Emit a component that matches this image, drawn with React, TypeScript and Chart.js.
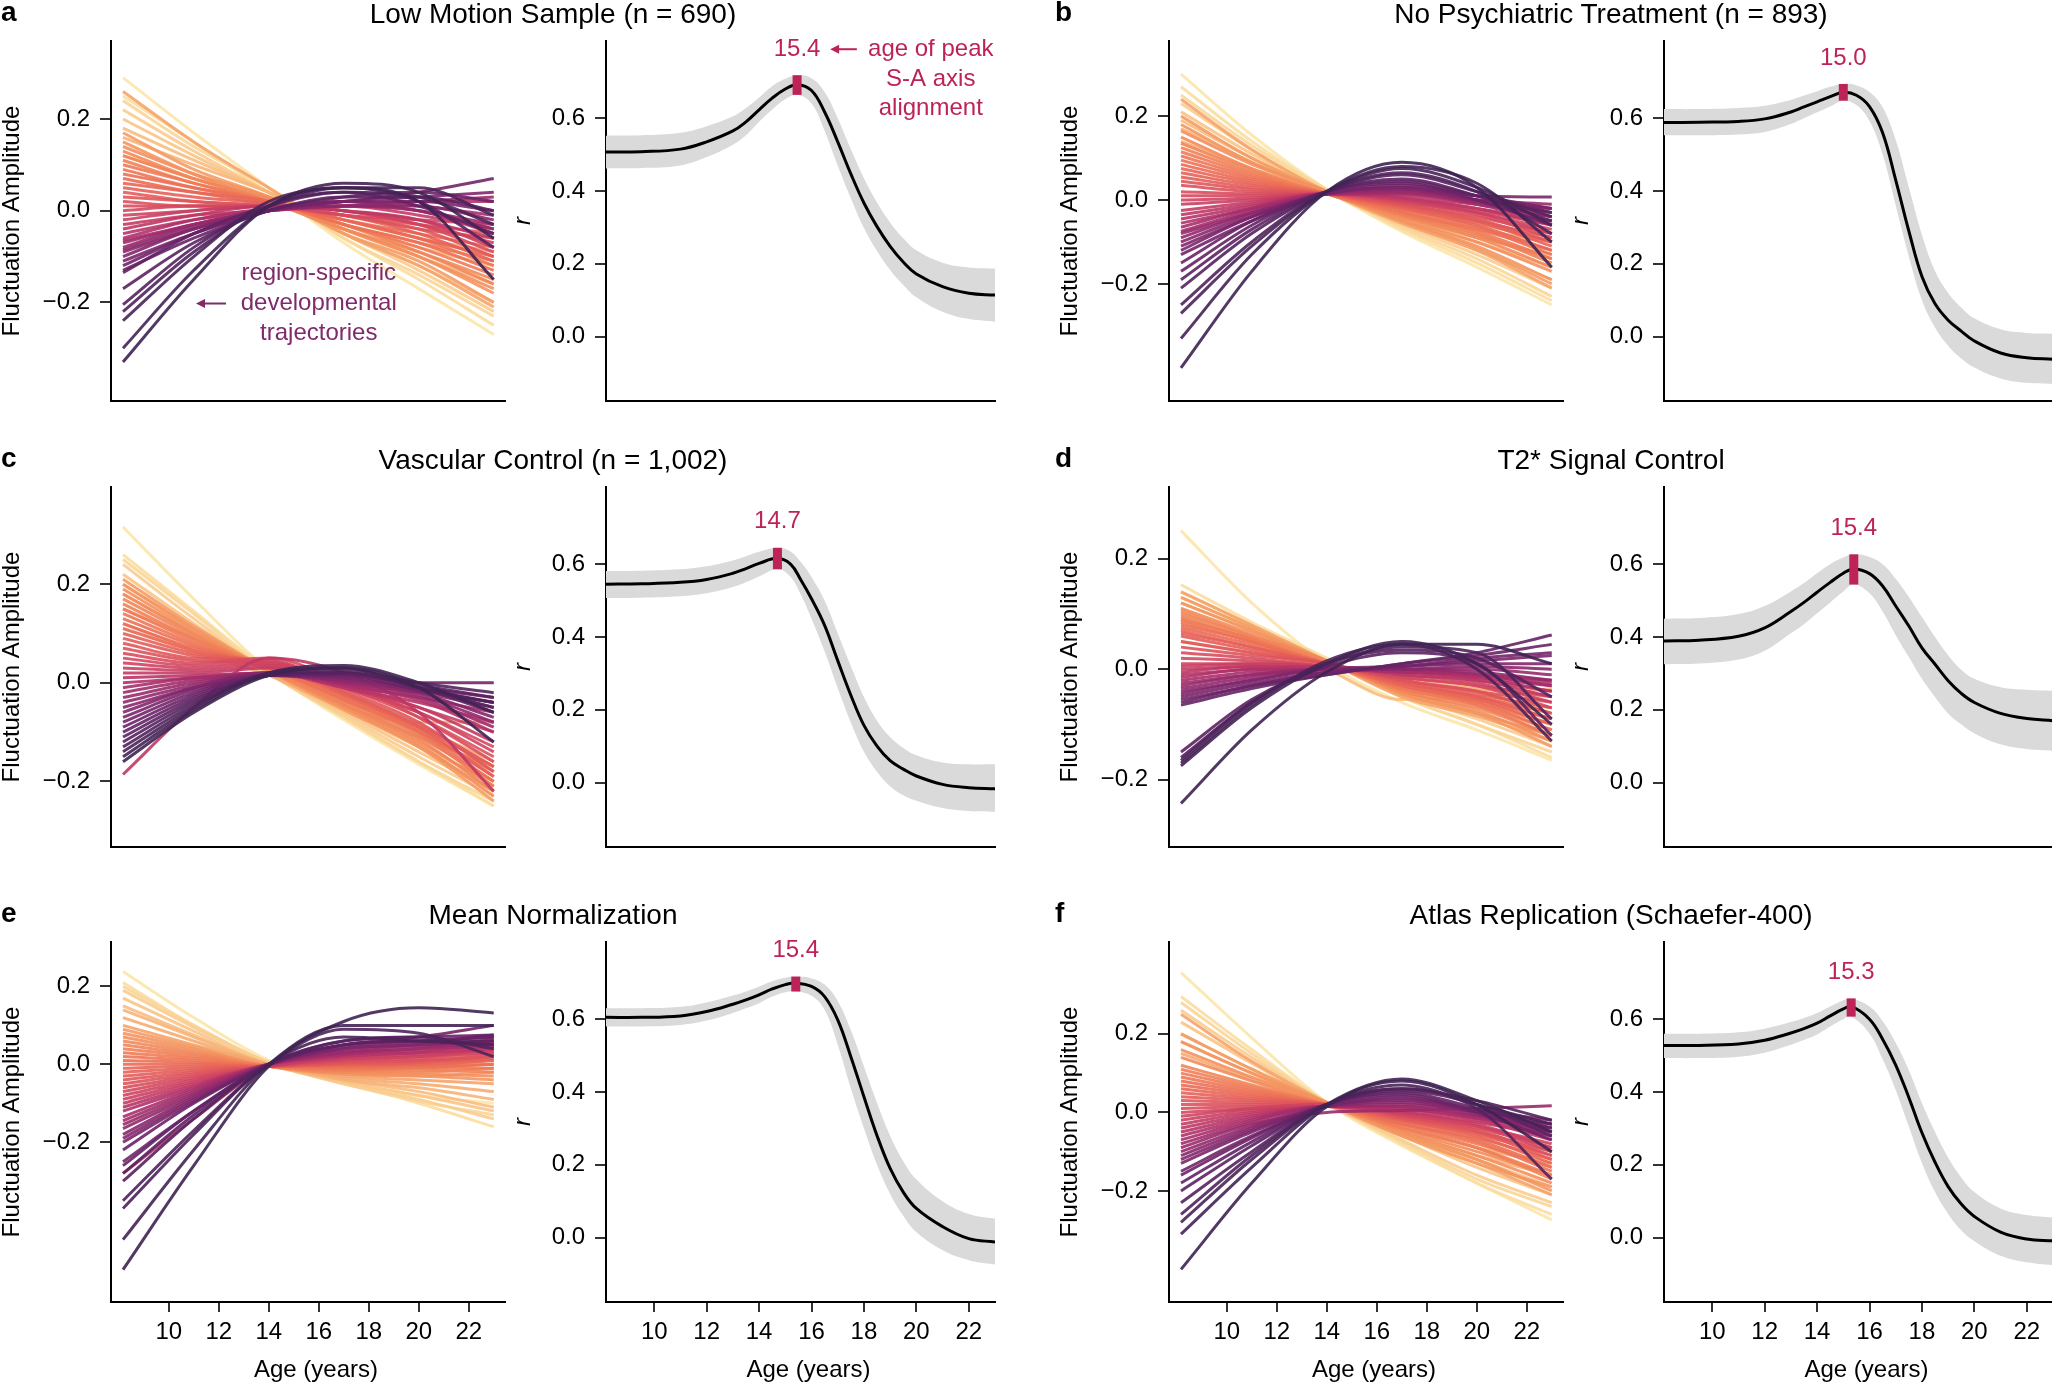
import React, { useEffect, useRef } from "react";
import { Chart, registerables } from "chart.js";

Chart.register(...registerables);

// ================= DATA =================
const LINE_AGES = [8.17, 11, 14, 17, 20, 23];
const X_TICKS = [10, 12, 14, 16, 18, 20, 22];
const LEFT_Y_TICKS = [-0.2, 0, 0.2];
const RIGHT_Y_TICKS = [0, 0.2, 0.4, 0.6];

const PANEL_LETTERS = ["a", "b", "c", "d", "e", "f"];
const PANEL_TITLES = [
  "Low Motion Sample (n = 690)",
  "No Psychiatric Treatment (n = 893)",
  "Vascular Control (n = 1,002)",
  "T2* Signal Control",
  "Mean Normalization",
  "Atlas Replication (Schaefer-400)",
];
const PEAK_AGES = [15.45, 15.0, 14.7, 15.4, 15.4, 15.3];
const PEAK_LABELS = ["15.4", "15.0", "14.7", "15.4", "15.4", "15.3"];
const Y_LABEL_LEFT = "Fluctuation Amplitude";
const Y_LABEL_RIGHT = "r";
const X_LABEL = "Age (years)";
const NOTE_RIGHT_TEXT = ["age of peak", "S-A axis", "alignment"];
const NOTE_LEFT_TEXT = ["region-specific", "developmental", "trajectories"];

// region-specific trajectories (values at LINE_AGES), ordered from sensorimotor (dark) to association (light)
const linesLowMotion = [
  [-0.33, -0.15, 0.01, 0.05, 0.02, -0.15],
  [-0.30, -0.13, 0.01, 0.06, 0.04, -0.06],
  [-0.24, -0.10, 0.02, 0.05, 0.05, -0.01],
  [-0.22, -0.09, 0.01, 0.04, 0.03, -0.03],
  [-0.205, -0.08, 0.01, 0.05, 0.02, -0.08],
  [-0.17, -0.07, 0.0, 0.03, 0.03, 0.0],
  [-0.135, -0.05, 0.01, 0.04, 0.01, -0.05],
  [-0.13, -0.06, 0.0, 0.03, 0.04, 0.02],
  [-0.12, -0.05, 0.0, 0.02, 0.04, 0.07],
  [-0.11, -0.05, 0.0, 0.02, 0.02, 0.0],
  [-0.10, -0.04, 0.0, 0.02, 0.03, 0.04],
  [-0.09, -0.04, 0.0, 0.01, 0.01, -0.02],
  [-0.085, -0.035, 0.005, 0.02, 0.0, -0.04],
  [-0.08, -0.03, 0.0, 0.01, 0.02, 0.03],
  [-0.07, -0.03, 0.0, 0.01, 0.0, -0.03],
  [-0.065, -0.03, 0.0, 0.02, 0.01, -0.01],
  [-0.06, -0.02, 0.005, 0.01, 0.0, -0.05],
  [-0.05, -0.02, 0.0, 0.01, 0.02, 0.02],
  [-0.04, -0.01, 0.01, 0.0, -0.02, -0.06],
  [-0.03, -0.01, 0.0, 0.01, -0.01, -0.04],
  [-0.02, 0.0, 0.01, 0.0, -0.02, -0.08],
  [-0.01, 0.0, 0.01, 0.0, -0.03, -0.07],
  [0.0, 0.01, 0.01, -0.01, -0.02, -0.03],
  [0.01, 0.01, 0.01, 0.0, -0.03, -0.09],
  [0.02, 0.01, 0.01, -0.01, -0.04, -0.06],
  [0.03, 0.02, 0.01, -0.01, -0.04, -0.1],
  [0.04, 0.02, 0.01, -0.01, -0.03, -0.05],
  [0.05, 0.03, 0.015, -0.01, -0.05, -0.11],
  [0.06, 0.04, 0.02, -0.02, -0.06, -0.1],
  [0.07, 0.04, 0.015, -0.02, -0.05, -0.08],
  [0.08, 0.05, 0.02, -0.03, -0.07, -0.13],
  [0.09, 0.05, 0.02, -0.02, -0.06, -0.12],
  [0.10, 0.06, 0.02, -0.03, -0.08, -0.14],
  [0.11, 0.06, 0.02, -0.03, -0.07, -0.11],
  [0.12, 0.07, 0.025, -0.03, -0.09, -0.16],
  [0.13, 0.07, 0.02, -0.04, -0.09, -0.15],
  [0.14, 0.08, 0.03, -0.04, -0.1, -0.17],
  [0.15, 0.08, 0.02, -0.04, -0.1, -0.18],
  [0.17, 0.09, 0.03, -0.05, -0.11, -0.2],
  [0.26, 0.15, 0.05, -0.05, -0.12, -0.21],
  [0.12, 0.07, 0.03, -0.02, -0.06, -0.09],
  [0.16, 0.1, 0.04, -0.03, -0.08, -0.12],
  [0.18, 0.11, 0.04, -0.04, -0.1, -0.16],
  [0.2, 0.12, 0.04, -0.05, -0.12, -0.2],
  [0.22, 0.13, 0.04, -0.05, -0.13, -0.22],
  [0.24, 0.14, 0.05, -0.06, -0.14, -0.23],
  [0.25, 0.15, 0.04, -0.06, -0.15, -0.25],
  [0.29, 0.17, 0.05, -0.07, -0.17, -0.27],
];

const linesNoPsych = [
  [-0.40, -0.17, 0.02, 0.09, 0.03, -0.16],
  [-0.33, -0.13, 0.02, 0.08, 0.04, -0.1],
  [-0.27, -0.11, 0.02, 0.075, 0.03, -0.06],
  [-0.25, -0.10, 0.02, 0.065, 0.02, -0.08],
  [-0.21, -0.08, 0.02, 0.06, 0.02, -0.04],
  [-0.19, -0.07, 0.02, 0.05, 0.01, -0.05],
  [-0.17, -0.06, 0.02, 0.045, 0.01, -0.03],
  [-0.15, -0.05, 0.02, 0.04, 0.0, -0.06],
  [-0.13, -0.05, 0.015, 0.035, 0.01, -0.02],
  [-0.12, -0.04, 0.015, 0.03, 0.01, 0.007],
  [-0.11, -0.04, 0.015, 0.03, 0.0, -0.03],
  [-0.10, -0.035, 0.015, 0.025, 0.0, -0.02],
  [-0.09, -0.03, 0.015, 0.025, -0.005, -0.04],
  [-0.08, -0.03, 0.015, 0.02, 0.0, -0.01],
  [-0.075, -0.025, 0.015, 0.02, -0.01, -0.05],
  [-0.065, -0.02, 0.015, 0.015, -0.005, -0.03],
  [-0.055, -0.02, 0.015, 0.015, -0.01, -0.04],
  [-0.045, -0.015, 0.015, 0.01, -0.01, -0.02],
  [-0.035, -0.01, 0.015, 0.005, -0.02, -0.06],
  [-0.025, -0.005, 0.015, 0.005, -0.02, -0.05],
  [-0.01, 0.0, 0.015, 0.0, -0.03, -0.08],
  [0.0, 0.005, 0.015, 0.0, -0.025, -0.06],
  [0.01, 0.01, 0.015, -0.005, -0.03, -0.07],
  [0.02, 0.015, 0.015, -0.005, -0.035, -0.09],
  [0.035, 0.02, 0.015, -0.01, -0.04, -0.08],
  [0.045, 0.025, 0.015, -0.01, -0.045, -0.1],
  [0.055, 0.03, 0.015, -0.015, -0.05, -0.09],
  [0.065, 0.035, 0.015, -0.015, -0.05, -0.11],
  [0.075, 0.04, 0.015, -0.02, -0.06, -0.12],
  [0.085, 0.045, 0.015, -0.02, -0.055, -0.1],
  [0.095, 0.05, 0.015, -0.025, -0.065, -0.13],
  [0.105, 0.055, 0.015, -0.03, -0.07, -0.12],
  [0.115, 0.06, 0.015, -0.03, -0.075, -0.14],
  [0.125, 0.065, 0.015, -0.035, -0.08, -0.15],
  [0.135, 0.07, 0.015, -0.035, -0.085, -0.14],
  [0.15, 0.075, 0.015, -0.04, -0.09, -0.16],
  [0.165, 0.085, 0.02, -0.045, -0.1, -0.17],
  [0.18, 0.09, 0.02, -0.05, -0.11, -0.19],
  [0.2, 0.1, 0.02, -0.05, -0.115, -0.2],
  [0.24, 0.12, 0.02, -0.055, -0.12, -0.21],
  [0.14, 0.075, 0.02, -0.03, -0.07, -0.1],
  [0.17, 0.09, 0.02, -0.04, -0.09, -0.13],
  [0.19, 0.1, 0.02, -0.05, -0.1, -0.16],
  [0.21, 0.11, 0.02, -0.055, -0.12, -0.19],
  [0.23, 0.12, 0.02, -0.06, -0.13, -0.21],
  [0.25, 0.13, 0.025, -0.065, -0.14, -0.23],
  [0.27, 0.14, 0.025, -0.07, -0.15, -0.24],
  [0.30, 0.155, 0.025, -0.075, -0.16, -0.25],
];

const linesVascular = [
  [-0.16, -0.06, 0.015, 0.03, -0.01, -0.12],
  [-0.15, -0.055, 0.02, 0.035, 0.0, -0.06],
  [-0.14, -0.05, 0.02, 0.03, -0.01, -0.04],
  [-0.13, -0.045, 0.015, 0.025, 0.0, -0.02],
  [-0.12, -0.04, 0.015, 0.02, -0.01, -0.05],
  [-0.11, -0.035, 0.015, 0.02, -0.005, -0.03],
  [-0.1, -0.03, 0.015, 0.02, -0.01, -0.06],
  [-0.09, -0.025, 0.015, 0.015, -0.015, -0.04],
  [-0.08, -0.02, 0.015, 0.015, 0.0, 0.0],
  [-0.07, -0.015, 0.015, 0.01, -0.01, -0.03],
  [-0.06, -0.01, 0.02, 0.01, -0.02, -0.07],
  [-0.05, -0.01, 0.015, 0.005, -0.015, -0.04],
  [-0.04, -0.005, 0.02, 0.005, -0.025, -0.08],
  [-0.03, 0.0, 0.02, 0.0, -0.02, -0.05],
  [-0.02, 0.005, 0.02, 0.0, -0.03, -0.09],
  [-0.01, 0.01, 0.02, -0.005, -0.03, -0.06],
  [0.0, 0.01, 0.02, -0.005, -0.035, -0.1],
  [0.01, 0.015, 0.02, -0.01, -0.04, -0.08],
  [-0.186, -0.05, 0.05, 0.02, -0.06, -0.22],
  [0.02, 0.02, 0.03, -0.01, -0.05, -0.12],
  [0.03, 0.025, 0.035, 0.0, -0.05, -0.1],
  [0.04, 0.03, 0.04, -0.005, -0.06, -0.14],
  [0.05, 0.035, 0.045, -0.01, -0.06, -0.13],
  [0.06, 0.04, 0.05, 0.0, -0.07, -0.16],
  [0.07, 0.045, 0.04, -0.01, -0.07, -0.15],
  [0.08, 0.05, 0.045, -0.015, -0.08, -0.18],
  [0.09, 0.055, 0.04, -0.02, -0.085, -0.17],
  [0.1, 0.06, 0.04, -0.02, -0.09, -0.19],
  [0.11, 0.065, 0.035, -0.025, -0.09, -0.17],
  [0.12, 0.07, 0.035, -0.025, -0.095, -0.19],
  [0.13, 0.075, 0.03, -0.03, -0.1, -0.2],
  [0.14, 0.08, 0.03, -0.035, -0.1, -0.18],
  [0.15, 0.085, 0.03, -0.035, -0.105, -0.21],
  [0.16, 0.09, 0.03, -0.04, -0.11, -0.2],
  [0.17, 0.095, 0.025, -0.045, -0.115, -0.22],
  [0.18, 0.1, 0.025, -0.045, -0.12, -0.21],
  [0.19, 0.105, 0.025, -0.05, -0.125, -0.23],
  [0.2, 0.11, 0.025, -0.05, -0.13, -0.22],
  [0.21, 0.115, 0.025, -0.055, -0.13, -0.24],
  [0.15, 0.09, 0.03, -0.03, -0.09, -0.16],
  [0.12, 0.065, 0.015, -0.05, -0.08, -0.08],
  [0.18, 0.1, 0.02, -0.05, -0.11, -0.17],
  [0.2, 0.11, 0.02, -0.055, -0.13, -0.2],
  [0.22, 0.12, 0.02, -0.06, -0.14, -0.22],
  [0.24, 0.13, 0.02, -0.065, -0.15, -0.23],
  [0.25, 0.14, 0.02, -0.07, -0.16, -0.24],
  [0.26, 0.145, 0.025, -0.07, -0.16, -0.25],
  [0.316, 0.17, 0.025, -0.075, -0.165, -0.25],
];

const linesT2 = [
  [-0.243, -0.11, -0.005, 0.045, 0.045, 0.01],
  [-0.175, -0.07, 0.01, 0.05, 0.01, -0.1],
  [-0.17, -0.065, 0.015, 0.045, 0.0, -0.13],
  [-0.165, -0.06, 0.01, 0.04, 0.03, -0.09],
  [-0.16, -0.06, 0.01, 0.035, 0.02, -0.05],
  [-0.15, -0.055, 0.005, 0.03, 0.01, -0.12],
  [-0.065, -0.035, -0.01, 0.01, 0.03, 0.062],
  [-0.06, -0.03, -0.01, 0.01, 0.025, 0.045],
  [-0.055, -0.03, -0.005, 0.005, 0.02, 0.03],
  [-0.05, -0.025, -0.005, 0.005, 0.015, 0.025],
  [-0.045, -0.02, 0.0, 0.005, 0.01, 0.01],
  [-0.04, -0.02, 0.0, 0.0, 0.005, 0.0],
  [-0.035, -0.015, 0.0, 0.0, -0.005, -0.02],
  [-0.03, -0.01, 0.0, 0.0, 0.0, -0.01],
  [-0.025, -0.01, 0.0, -0.005, -0.01, -0.03],
  [-0.02, -0.005, 0.0, 0.0, -0.01, -0.02],
  [-0.015, 0.0, 0.0, -0.005, -0.015, -0.04],
  [-0.01, 0.0, 0.005, -0.005, -0.01, -0.025],
  [-0.005, 0.005, 0.005, -0.01, -0.02, -0.05],
  [0.0, 0.005, 0.0, -0.005, -0.015, -0.03],
  [0.005, 0.01, 0.005, -0.01, -0.025, -0.06],
  [0.01, 0.01, 0.005, -0.01, -0.02, -0.04],
  [0.02, 0.015, 0.005, -0.015, -0.03, -0.07],
  [0.03, 0.02, 0.005, -0.015, -0.03, -0.05],
  [0.04, 0.025, 0.01, -0.02, -0.04, -0.08],
  [0.05, 0.03, 0.01, -0.02, -0.04, -0.06],
  [0.06, 0.035, 0.01, -0.025, -0.05, -0.09],
  [0.065, 0.04, 0.01, -0.02, -0.045, -0.07],
  [0.07, 0.04, 0.01, -0.03, -0.055, -0.1],
  [0.075, 0.045, 0.01, -0.025, -0.05, -0.08],
  [0.08, 0.05, 0.01, -0.03, -0.06, -0.11],
  [0.085, 0.05, 0.01, -0.03, -0.055, -0.09],
  [0.09, 0.055, 0.01, -0.035, -0.065, -0.12],
  [0.095, 0.055, 0.01, -0.035, -0.06, -0.1],
  [0.1, 0.06, 0.015, -0.04, -0.07, -0.12],
  [0.105, 0.06, 0.015, -0.035, -0.065, -0.11],
  [0.11, 0.065, 0.015, -0.04, -0.075, -0.13],
  [0.12, 0.07, 0.015, -0.045, -0.08, -0.12],
  [0.13, 0.075, 0.015, -0.045, -0.08, -0.14],
  [0.14, 0.08, 0.015, -0.05, -0.085, -0.13],
  [0.05, 0.03, 0.005, -0.02, -0.035, -0.05],
  [0.09, 0.05, 0.01, -0.03, -0.05, -0.07],
  [0.11, 0.06, 0.0, -0.055, -0.05, -0.035],
  [0.12, 0.07, 0.015, -0.04, -0.08, -0.12],
  [0.13, 0.075, 0.015, -0.045, -0.09, -0.14],
  [0.14, 0.08, 0.015, -0.05, -0.1, -0.15],
  [0.153, 0.085, 0.02, -0.05, -0.1, -0.16],
  [0.251, 0.12, 0.01, -0.06, -0.11, -0.165],
];

const linesMeanNorm = [
  [-0.527, -0.26, -0.005, 0.11, 0.145, 0.132],
  [-0.45, -0.22, 0.0, 0.1, 0.1, 0.1],
  [-0.37, -0.18, 0.0, 0.07, 0.06, 0.05],
  [-0.35, -0.17, 0.0, 0.09, 0.08, 0.02],
  [-0.3, -0.14, 0.0, 0.06, 0.07, 0.04],
  [-0.28, -0.13, 0.0, 0.05, 0.06, 0.06],
  [-0.26, -0.12, 0.0, 0.06, 0.07, 0.075],
  [-0.22, -0.1, 0.0, 0.05, 0.06, 0.07],
  [-0.25, -0.12, 0.0, 0.05, 0.07, 0.1],
  [-0.2, -0.095, 0.0, 0.045, 0.06, 0.07],
  [-0.19, -0.09, 0.0, 0.04, 0.05, 0.06],
  [-0.18, -0.085, 0.0, 0.04, 0.055, 0.075],
  [-0.165, -0.08, 0.0, 0.035, 0.05, 0.06],
  [-0.155, -0.075, 0.0, 0.03, 0.045, 0.05],
  [-0.145, -0.07, 0.0, 0.03, 0.04, 0.065],
  [-0.135, -0.065, 0.0, 0.025, 0.04, 0.045],
  [-0.12, -0.06, 0.0, 0.025, 0.035, 0.055],
  [-0.11, -0.055, 0.0, 0.02, 0.03, 0.04],
  [-0.28, -0.14, -0.005, 0.04, 0.05, 0.06],
  [-0.1, -0.05, -0.005, 0.02, 0.03, 0.05],
  [-0.09, -0.045, -0.005, 0.015, 0.025, 0.035],
  [-0.08, -0.04, -0.005, 0.015, 0.02, 0.045],
  [-0.07, -0.035, -0.005, 0.01, 0.02, 0.03],
  [-0.06, -0.03, -0.005, 0.01, 0.015, 0.04],
  [-0.05, -0.025, -0.005, 0.005, 0.01, 0.02],
  [-0.04, -0.02, -0.005, 0.005, 0.01, 0.03],
  [-0.03, -0.015, -0.005, 0.0, 0.005, 0.015],
  [-0.02, -0.01, -0.005, 0.0, 0.005, 0.025],
  [-0.01, -0.005, -0.005, 0.0, 0.0, 0.01],
  [0.0, 0.0, -0.005, -0.005, 0.0, 0.02],
  [0.01, 0.005, -0.005, -0.005, -0.005, 0.0],
  [0.02, 0.01, -0.005, -0.01, -0.005, 0.01],
  [0.03, 0.015, -0.005, -0.01, -0.01, -0.01],
  [0.04, 0.02, -0.005, -0.015, -0.01, 0.0],
  [0.05, 0.025, -0.005, -0.015, -0.015, -0.02],
  [0.06, 0.03, -0.005, -0.02, -0.02, -0.01],
  [0.07, 0.035, -0.005, -0.02, -0.025, -0.03],
  [0.08, 0.04, -0.005, -0.025, -0.03, -0.04],
  [0.09, 0.045, -0.005, -0.025, -0.03, -0.02],
  [0.1, 0.05, 0.0, -0.03, -0.04, -0.05],
  [0.12, 0.06, 0.0, -0.035, -0.05, -0.07],
  [0.14, 0.07, 0.0, -0.04, -0.06, -0.09],
  [0.15, 0.075, 0.0, -0.04, -0.07, -0.11],
  [0.17, 0.085, 0.0, -0.045, -0.08, -0.12],
  [0.19, 0.095, 0.005, -0.05, -0.09, -0.14],
  [0.2, 0.1, 0.005, -0.05, -0.095, -0.13],
  [0.21, 0.1, 0.005, -0.045, -0.1, -0.16],
  [0.238, 0.12, 0.01, -0.05, -0.08, -0.1],
];

const linesSchaefer = [
  [-0.40, -0.18, 0.015, 0.08, 0.02, -0.1],
  [-0.31, -0.14, 0.02, 0.085, 0.03, -0.05],
  [-0.28, -0.12, 0.02, 0.07, 0.02, -0.03],
  [-0.26, -0.11, 0.02, 0.06, 0.03, -0.02],
  [-0.23, -0.1, 0.02, 0.06, 0.01, -0.17],
  [-0.2, -0.085, 0.02, 0.055, 0.02, -0.06],
  [-0.18, -0.075, 0.02, 0.05, 0.01, -0.04],
  [-0.16, -0.065, 0.02, 0.045, 0.0, -0.07],
  [-0.15, -0.06, 0.015, 0.04, 0.005, -0.03],
  [-0.13, -0.05, 0.015, 0.035, 0.0, -0.05],
  [-0.12, -0.045, 0.015, 0.03, 0.005, -0.02],
  [-0.11, -0.04, 0.015, 0.025, -0.005, -0.06],
  [-0.1, -0.035, 0.015, 0.02, 0.0, -0.04],
  [-0.09, -0.03, 0.0, 0.005, 0.01, 0.017],
  [-0.08, -0.025, 0.015, 0.015, -0.01, -0.05],
  [-0.07, -0.02, 0.015, 0.015, -0.01, -0.03],
  [-0.06, -0.015, 0.015, 0.01, -0.015, -0.06],
  [-0.05, -0.01, 0.015, 0.01, -0.015, -0.04],
  [-0.04, -0.005, 0.015, 0.005, -0.02, -0.07],
  [-0.03, 0.0, 0.015, 0.0, -0.025, -0.06],
  [-0.02, 0.005, 0.015, 0.0, -0.03, -0.09],
  [-0.01, 0.01, 0.02, -0.005, -0.035, -0.08],
  [0.0, 0.01, 0.02, -0.005, -0.035, -0.1],
  [0.01, 0.015, 0.02, -0.01, -0.04, -0.09],
  [0.02, 0.02, 0.02, -0.01, -0.045, -0.11],
  [0.03, 0.025, 0.02, -0.015, -0.05, -0.1],
  [0.04, 0.03, 0.02, -0.015, -0.05, -0.12],
  [0.05, 0.035, 0.02, -0.02, -0.055, -0.11],
  [0.06, 0.04, 0.02, -0.02, -0.06, -0.13],
  [0.07, 0.045, 0.02, -0.025, -0.065, -0.12],
  [0.08, 0.05, 0.02, -0.03, -0.07, -0.14],
  [0.09, 0.055, 0.02, -0.03, -0.075, -0.15],
  [0.1, 0.06, 0.02, -0.035, -0.08, -0.14],
  [0.11, 0.065, 0.02, -0.04, -0.09, -0.16],
  [0.12, 0.07, 0.02, -0.04, -0.09, -0.17],
  [0.14, 0.08, 0.02, -0.045, -0.1, -0.16],
  [0.16, 0.09, 0.025, -0.05, -0.11, -0.18],
  [0.18, 0.1, 0.025, -0.055, -0.12, -0.2],
  [0.2, 0.11, 0.025, -0.06, -0.13, -0.19],
  [0.25, 0.13, 0.025, -0.06, -0.13, -0.21],
  [0.15, 0.085, 0.02, -0.04, -0.09, -0.13],
  [0.18, 0.1, 0.02, -0.05, -0.11, -0.16],
  [0.2, 0.11, 0.02, -0.055, -0.12, -0.19],
  [0.23, 0.125, 0.02, -0.06, -0.14, -0.21],
  [0.26, 0.14, 0.025, -0.07, -0.16, -0.23],
  [0.28, 0.15, 0.025, -0.075, -0.17, -0.24],
  [0.295, 0.16, 0.025, -0.08, -0.18, -0.26],
  [0.356, 0.19, 0.025, -0.085, -0.18, -0.274],
];

// age-resolved S-A axis alignment (r) with 95% credible band
const ageLowMotion = [8.16, 9.5, 11, 12, 13, 13.5, 14, 14.5, 15, 15.45, 16, 16.5, 17, 17.5, 18, 18.5, 19, 19.5, 20, 21, 22, 23];
const rLowMotion = [0.507, 0.508, 0.515, 0.535, 0.565, 0.59, 0.623, 0.655, 0.68, 0.692, 0.676, 0.617, 0.535, 0.447, 0.367, 0.302, 0.248, 0.205, 0.172, 0.137, 0.119, 0.114];
const rUpperLowMotion = [0.552, 0.553, 0.56, 0.578, 0.605, 0.628, 0.657, 0.688, 0.708, 0.718, 0.71, 0.672, 0.6, 0.515, 0.435, 0.368, 0.313, 0.27, 0.237, 0.203, 0.19, 0.187];
const rLowerLowMotion = [0.462, 0.463, 0.47, 0.493, 0.527, 0.553, 0.59, 0.624, 0.652, 0.664, 0.64, 0.565, 0.47, 0.38, 0.298, 0.235, 0.183, 0.142, 0.108, 0.068, 0.048, 0.041];

const ageNoPsych = [8.16, 9.5, 11, 12, 13, 13.5, 14, 14.5, 15, 15.5, 16, 16.5, 17, 17.5, 18, 18.5, 19, 19.5, 20, 21, 22, 23];
const rNoPsych = [0.588, 0.589, 0.591, 0.598, 0.617, 0.631, 0.645, 0.659, 0.671, 0.663, 0.632, 0.56, 0.43, 0.29, 0.165, 0.09, 0.045, 0.015, -0.012, -0.045, -0.058, -0.062];
const rUpperNoPsych = [0.625, 0.625, 0.628, 0.634, 0.65, 0.662, 0.674, 0.686, 0.694, 0.69, 0.672, 0.63, 0.54, 0.41, 0.28, 0.18, 0.12, 0.08, 0.05, 0.02, 0.01, 0.008];
const rLowerNoPsych = [0.553, 0.553, 0.555, 0.562, 0.584, 0.6, 0.616, 0.632, 0.648, 0.636, 0.592, 0.5, 0.36, 0.22, 0.1, 0.025, -0.025, -0.06, -0.085, -0.115, -0.127, -0.13];

const ageVascular = [8.16, 9.5, 11, 12, 13, 13.5, 14, 14.7, 15.2, 15.6, 16, 16.5, 17, 17.5, 18, 18.5, 19, 19.5, 20, 21, 22, 23];
const rVascular = [0.545, 0.546, 0.55, 0.558, 0.575, 0.588, 0.602, 0.616, 0.6, 0.556, 0.505, 0.432, 0.335, 0.24, 0.157, 0.1, 0.06, 0.037, 0.018, -0.005, -0.014, -0.017];
const rUpperVascular = [0.581, 0.582, 0.586, 0.594, 0.61, 0.622, 0.634, 0.645, 0.635, 0.605, 0.565, 0.5, 0.41, 0.32, 0.235, 0.17, 0.125, 0.095, 0.075, 0.055, 0.05, 0.05];
const rLowerVascular = [0.507, 0.508, 0.512, 0.52, 0.537, 0.55, 0.566, 0.586, 0.565, 0.515, 0.45, 0.36, 0.26, 0.165, 0.085, 0.03, -0.01, -0.035, -0.05, -0.07, -0.078, -0.08];

const ageT2 = [8.16, 9.5, 11, 12, 13, 13.5, 14, 14.5, 15, 15.4, 16, 16.5, 17, 17.5, 18, 18.5, 19, 19.5, 20, 21, 22, 23];
const rT2 = [0.389, 0.391, 0.402, 0.425, 0.47, 0.495, 0.523, 0.55, 0.575, 0.587, 0.574, 0.54, 0.485, 0.43, 0.37, 0.325, 0.28, 0.245, 0.22, 0.19, 0.176, 0.17];
const rUpperT2 = [0.45, 0.452, 0.463, 0.485, 0.525, 0.548, 0.575, 0.6, 0.618, 0.627, 0.62, 0.6, 0.56, 0.51, 0.455, 0.4, 0.35, 0.31, 0.285, 0.262, 0.255, 0.252];
const rLowerT2 = [0.325, 0.327, 0.338, 0.362, 0.41, 0.435, 0.465, 0.495, 0.525, 0.544, 0.52, 0.47, 0.405, 0.345, 0.285, 0.235, 0.19, 0.16, 0.135, 0.105, 0.092, 0.087];

const ageMeanNorm = [8.16, 9.5, 11, 12, 13, 13.5, 14, 14.5, 15, 15.4, 16, 16.5, 17, 17.5, 18, 18.5, 19, 19.5, 20, 21, 22, 23];
const rMeanNorm = [0.605, 0.605, 0.609, 0.621, 0.641, 0.653, 0.667, 0.683, 0.695, 0.699, 0.69, 0.662, 0.598, 0.497, 0.387, 0.28, 0.19, 0.125, 0.08, 0.03, -0.003, -0.012];
const rUpperMeanNorm = [0.63, 0.63, 0.634, 0.646, 0.665, 0.676, 0.69, 0.704, 0.714, 0.717, 0.712, 0.695, 0.65, 0.57, 0.47, 0.37, 0.28, 0.21, 0.16, 0.1, 0.065, 0.052];
const rLowerMeanNorm = [0.58, 0.58, 0.584, 0.596, 0.617, 0.63, 0.644, 0.662, 0.674, 0.676, 0.664, 0.625, 0.53, 0.41, 0.3, 0.2, 0.12, 0.06, 0.015, -0.035, -0.062, -0.074];

const ageSchaefer = [8.16, 9.5, 11, 12, 13, 13.5, 14, 14.5, 15, 15.3, 16, 16.5, 17, 17.5, 18, 18.5, 19, 19.5, 20, 21, 22, 23];
const rSchaefer = [0.528, 0.528, 0.532, 0.542, 0.562, 0.574, 0.589, 0.609, 0.628, 0.635, 0.6, 0.545, 0.474, 0.385, 0.288, 0.207, 0.14, 0.092, 0.058, 0.015, -0.004, -0.009];
const rUpperSchaefer = [0.56, 0.56, 0.564, 0.574, 0.592, 0.603, 0.617, 0.635, 0.652, 0.657, 0.635, 0.595, 0.535, 0.46, 0.37, 0.29, 0.22, 0.165, 0.125, 0.08, 0.062, 0.055];
const rLowerSchaefer = [0.493, 0.493, 0.497, 0.508, 0.53, 0.543, 0.558, 0.58, 0.6, 0.607, 0.56, 0.49, 0.405, 0.305, 0.205, 0.125, 0.065, 0.02, -0.01, -0.05, -0.068, -0.076];

// ================= LAYOUT / STYLE =================
const FONT = "'Liberation Sans', Arial, Helvetica, sans-serif";
const COL_X = [0, 1058];
const ROW_TOP = [41, 487, 942];
const PLOT_H = 360;
const PAD_TOP = 30;
const TITLE_Y = [14, 460, 915];
const LETTER_Y = [11.5, 457.5, 913];
const LETTER_X = [1, 1055];
const LEFT_X_RANGE = [7.69, 23.45];
const RIGHT_X_RANGE = [8.16, 23.0];
const RIGHT_Y_RANGE = [-0.177, 0.812];
const LEFT_Y_RANGES = [
  [-0.415, 0.37],
  [-0.479, 0.379],
  [-0.333, 0.397],
  [-0.322, 0.33],
  [-0.61, 0.314],
  [-0.483, 0.434],
];
const PEAK_COLOR = "#BD2358";
const NOTE_PURPLE = "#7E2A6B";
const BAND_COLOR = "#DADADA";
const LINE_WIDTH = 3;
const COLOR_STOPS = [
  [62, 36, 82], [90, 34, 98], [125, 38, 108], [162, 45, 108], [196, 58, 101], [220, 80, 93],
  [234, 104, 87], [240, 128, 88], [244, 153, 98], [248, 190, 128], [252, 230, 170],
];
// annotation anchors (data coordinates) for panel a
const NOTE_RIGHT_POS = { age: 20.55, arrowFrom: 17.73, arrowTo: 16.71 };
const NOTE_LEFT_POS = { age: 16.0, value: -0.137, arrowFrom: 12.29, arrowTo: 11.09 };

const PANELS = [
  { lines: linesLowMotion, ages: ageLowMotion, mean: rLowMotion, upper: rUpperLowMotion, lower: rLowerLowMotion },
  { lines: linesNoPsych, ages: ageNoPsych, mean: rNoPsych, upper: rUpperNoPsych, lower: rLowerNoPsych },
  { lines: linesVascular, ages: ageVascular, mean: rVascular, upper: rUpperVascular, lower: rLowerVascular },
  { lines: linesT2, ages: ageT2, mean: rT2, upper: rUpperT2, lower: rLowerT2 },
  { lines: linesMeanNorm, ages: ageMeanNorm, mean: rMeanNorm, upper: rUpperMeanNorm, lower: rLowerMeanNorm },
  { lines: linesSchaefer, ages: ageSchaefer, mean: rSchaefer, upper: rUpperSchaefer, lower: rLowerSchaefer },
];

function lineColor(t: number) {
  const p = t * (COLOR_STOPS.length - 1);
  const i = Math.min(Math.floor(p), COLOR_STOPS.length - 2);
  const f = p - i;
  const c = COLOR_STOPS[i].map((v, k) => Math.round(v + (COLOR_STOPS[i + 1][k] - v) * f));
  return `rgba(${c[0]},${c[1]},${c[2]},0.9)`;
}

function fmtTick(v: number) {
  if (Math.abs(v) < 1e-9) return "0.0";
  return (v < 0 ? "\u2212" : "") + Math.abs(v).toFixed(1);
}

function drawArrow(ctx: any, xTail: number, xHead: number, y: number, color: string) {
  ctx.save();
  ctx.strokeStyle = color;
  ctx.fillStyle = color;
  ctx.lineWidth = 2;
  ctx.beginPath();
  ctx.moveTo(xTail, y);
  ctx.lineTo(xHead + 5, y);
  ctx.stroke();
  ctx.beginPath();
  ctx.moveTo(xHead, y);
  ctx.lineTo(xHead + 9, y - 4.5);
  ctx.lineTo(xHead + 9, y + 4.5);
  ctx.closePath();
  ctx.fill();
  ctx.restore();
}

function xScale(range: number[], bottomRow: boolean) {
  return {
    type: "linear",
    min: range[0],
    max: range[1],
    afterBuildTicks: (s: any) => {
      s.ticks = X_TICKS.map((v) => ({ value: v }));
    },
    afterFit: (s: any) => {
      s.height = bottomRow ? 82 : 6;
      s.paddingLeft = 0;
      s.paddingRight = 0;
    },
    border: { display: true, color: "#000", width: 2 },
    grid: { display: true, drawOnChartArea: false, drawTicks: bottomRow, tickLength: 10, color: "#333", lineWidth: 2 },
    ticks: {
      display: bottomRow,
      autoSkip: false,
      maxRotation: 0,
      padding: 6,
      color: "#000",
      font: { family: FONT, size: 24 },
      callback: (v: any) => String(v),
    },
    title: { display: false },
  };
}

function yScale(range: number[], ticks: number[], width: number, text: string, italic: boolean, titlePad: number) {
  return {
    type: "linear",
    min: range[0],
    max: range[1],
    afterBuildTicks: (s: any) => {
      s.ticks = ticks.map((v) => ({ value: v }));
    },
    afterFit: (s: any) => {
      s.width = width;
      s.paddingTop = 0;
      s.paddingBottom = 0;
    },
    border: { display: true, color: "#000", width: 2 },
    grid: { display: true, drawOnChartArea: false, drawTicks: true, tickLength: 11, color: "#333", lineWidth: 2 },
    ticks: {
      autoSkip: false,
      padding: 10,
      color: "#000",
      font: { family: FONT, size: 24 },
      callback: (v: any) => fmtTick(Number(v)),
    },
    title: {
      display: true,
      text,
      color: "#000",
      font: { family: FONT, size: 24, lineHeight: 1, style: italic ? "italic" : "normal" },
      padding: { top: titlePad, bottom: 0 },
    },
  };
}

const xTitlePlugin = {
  id: "xTitle",
  afterDraw(chart: any) {
    const { ctx, chartArea } = chart;
    ctx.save();
    ctx.fillStyle = "#000";
    ctx.font = `24px ${FONT}`;
    ctx.textAlign = "center";
    ctx.textBaseline = "middle";
    ctx.fillText(X_LABEL, (chartArea.left + chartArea.right) / 2 + 8, chart.height - 14);
    ctx.restore();
  },
};

function leftConfig(p: any, idx: number, row: number) {
  const n = p.lines.length;
  const plugins: any[] = [];
  if (row === 2) plugins.push(xTitlePlugin);
  if (idx === 0) {
    plugins.push({
      id: "noteLeft",
      afterDatasetsDraw(chart: any) {
        const { ctx, scales } = chart;
        const cx = scales.x.getPixelForValue(NOTE_LEFT_POS.age);
        const y0 = scales.y.getPixelForValue(NOTE_LEFT_POS.value);
        ctx.save();
        ctx.fillStyle = NOTE_PURPLE;
        ctx.font = `24px ${FONT}`;
        ctx.textAlign = "center";
        ctx.textBaseline = "middle";
        NOTE_LEFT_TEXT.forEach((t, i) => ctx.fillText(t, cx, y0 + i * 30));
        ctx.restore();
        drawArrow(ctx, scales.x.getPixelForValue(NOTE_LEFT_POS.arrowFrom), scales.x.getPixelForValue(NOTE_LEFT_POS.arrowTo), y0 + 30, NOTE_PURPLE);
      },
    });
  }
  return {
    type: "line",
    data: {
      datasets: p.lines.map((vals: number[], i: number) => ({
        data: vals.map((y, j) => ({ x: LINE_AGES[j], y })),
        borderColor: lineColor(i / (n - 1)),
        borderWidth: LINE_WIDTH,
        pointRadius: 0,
        cubicInterpolationMode: "monotone",
        fill: false,
      })),
    },
    options: {
      animation: false,
      responsive: false,
      events: [],
      layout: { padding: { left: 0, top: PAD_TOP, right: 15, bottom: 0 }, autoPadding: false },
      plugins: { legend: { display: false }, tooltip: { enabled: false }, title: { display: false } },
      scales: {
        x: xScale(LEFT_X_RANGE, row === 2),
        y: yScale(LEFT_Y_RANGES[idx], LEFT_Y_TICKS, 111, Y_LABEL_LEFT, false, 0),
      },
    },
    plugins,
  };
}

function rightConfig(p: any, idx: number, row: number) {
  const plugins: any[] = [];
  if (row === 2) plugins.push(xTitlePlugin);
  plugins.push({
    id: "peak" + idx,
    afterDatasetsDraw(chart: any) {
      const { ctx, scales } = chart;
      const age = PEAK_AGES[idx];
      const k = p.ages.indexOf(age);
      const px = scales.x.getPixelForValue(age);
      const yTop = scales.y.getPixelForValue(p.upper[k]);
      const yBot = scales.y.getPixelForValue(p.lower[k]);
      ctx.save();
      ctx.fillStyle = PEAK_COLOR;
      ctx.fillRect(px - 4.5, yTop, 9, yBot - yTop);
      ctx.font = `24px ${FONT}`;
      ctx.textAlign = "center";
      ctx.textBaseline = "middle";
      const yl = yTop - 26;
      ctx.fillText(PEAK_LABELS[idx], px, yl);
      if (idx === 0) {
        const nx = scales.x.getPixelForValue(NOTE_RIGHT_POS.age);
        NOTE_RIGHT_TEXT.forEach((t, i) => ctx.fillText(t, nx, yl + i * 29.7));
        ctx.restore();
        drawArrow(ctx, scales.x.getPixelForValue(NOTE_RIGHT_POS.arrowFrom), scales.x.getPixelForValue(NOTE_RIGHT_POS.arrowTo), yl, PEAK_COLOR);
        return;
      }
      ctx.restore();
    },
  });
  const pts = (arr: number[]) => arr.map((y, i) => ({ x: p.ages[i], y }));
  return {
    type: "line",
    data: {
      datasets: [
        { data: pts(p.mean), borderColor: "#000", borderWidth: 3, pointRadius: 0, tension: 0.4, fill: false },
        { data: pts(p.upper), borderColor: "rgba(0,0,0,0)", borderWidth: 0, backgroundColor: BAND_COLOR, pointRadius: 0, tension: 0.4, fill: "+1" },
        { data: pts(p.lower), borderColor: "rgba(0,0,0,0)", borderWidth: 0, pointRadius: 0, tension: 0.4, fill: false },
      ],
    },
    options: {
      animation: false,
      responsive: false,
      events: [],
      layout: { padding: { left: 0, top: PAD_TOP, right: 10, bottom: 0 }, autoPadding: false },
      plugins: { legend: { display: false }, tooltip: { enabled: false }, title: { display: false } },
      scales: {
        x: xScale(RIGHT_X_RANGE, row === 2),
        y: yScale(RIGHT_Y_RANGE, RIGHT_Y_TICKS, 101, Y_LABEL_RIGHT, true, 6),
      },
    },
    plugins,
  };
}

function ChartBox({ make, left, top, width, height }: any) {
  const ref = useRef<HTMLCanvasElement | null>(null);
  useEffect(() => {
    if (!ref.current) return;
    const chart = new Chart(ref.current, make());
    return () => chart.destroy();
  }, []);
  return (
    <canvas
      ref={ref}
      width={width}
      height={height}
      style={{ position: "absolute", left, top, width, height }}
    />
  );
}

export default function App() {
  const items: any[] = [];
  PANELS.forEach((p, i) => {
    const col = i % 2;
    const row = Math.floor(i / 2);
    const cx = COL_X[col];
    const top = ROW_TOP[row] - PAD_TOP;
    const h = row === 2 ? 1384 - top : PAD_TOP + PLOT_H + 6;
    items.push(<ChartBox key={"L" + i} make={() => leftConfig(p, i, row)} left={cx} top={top} width={520} height={h} />);
    items.push(<ChartBox key={"R" + i} make={() => rightConfig(p, i, row)} left={cx + 505} top={top} width={500} height={h} />);
    items.push(
      <div
        key={"T" + i}
        style={{
          position: "absolute",
          left: cx + 553,
          top: TITLE_Y[row],
          transform: "translate(-50%, -50%)",
          fontFamily: FONT,
          fontSize: 28,
          lineHeight: "28px",
          whiteSpace: "nowrap",
          color: "#000",
        }}
      >
        {PANEL_TITLES[i]}
      </div>
    );
    items.push(
      <div
        key={"P" + i}
        style={{
          position: "absolute",
          left: LETTER_X[col],
          top: LETTER_Y[row],
          transform: "translateY(-50%)",
          fontFamily: FONT,
          fontSize: 28,
          fontWeight: "bold",
          lineHeight: "28px",
          color: "#000",
        }}
      >
        {PANEL_LETTERS[i]}
      </div>
    );
  });
  return (
    <div
      style={{
        position: "absolute",
        left: 0,
        top: 0,
        width: 2052,
        height: 1384,
        overflow: "hidden",
        background: "#fff",
      }}
    >
      {items}
    </div>
  );
}
